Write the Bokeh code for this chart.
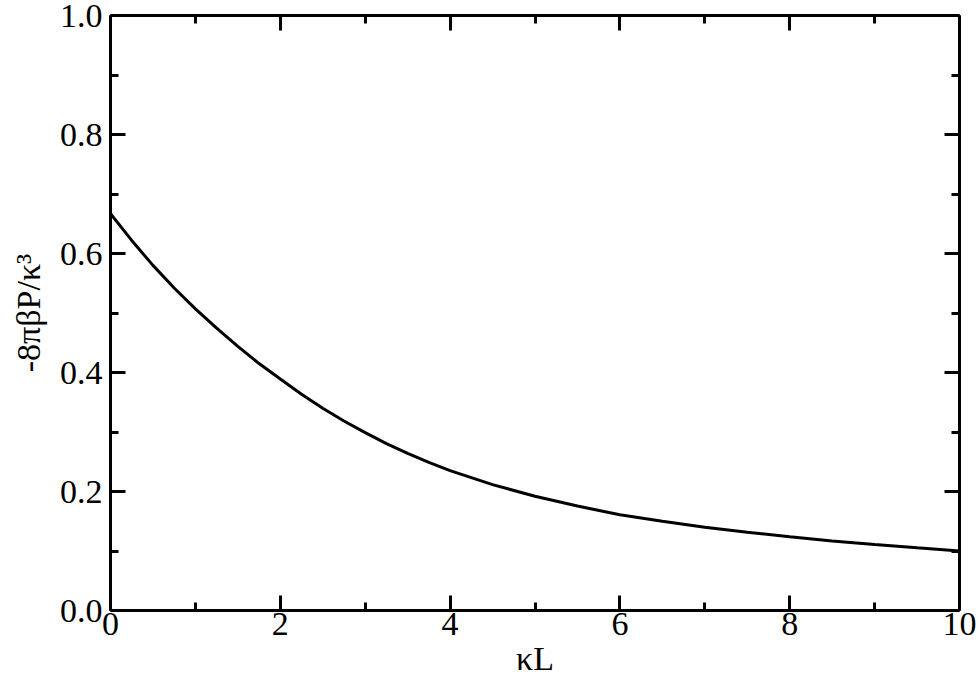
from bokeh.plotting import figure
from bokeh.models import LinearAxis, Range1d, FixedTicker, CustomLabelingPolicy
from bokeh.embed import file_html
from bokeh.resources import INLINE

# data
kL = [0.0, 0.25, 0.5, 0.75, 1.0, 1.25, 1.5, 1.75, 2.0, 2.25, 2.5, 2.75, 3.0,
      3.25, 3.5, 3.75, 4.0, 4.5, 5.0, 5.5, 6.0, 6.5, 7.0, 7.5, 8.0, 8.5, 9.0,
      9.5, 10.0]
pressure = [0.667, 0.622, 0.580, 0.542, 0.507, 0.4745, 0.444, 0.415, 0.389,
            0.3635, 0.340, 0.3185, 0.299, 0.2805, 0.264, 0.2488, 0.235, 0.2115,
            0.192, 0.1755, 0.161, 0.150, 0.140, 0.1315, 0.124, 0.117, 0.111,
            0.1053, 0.100]

x_major = [0, 2, 4, 6, 8, 10]
x_minor = [1, 3, 5, 7, 9]
y_major = [0.0, 0.2, 0.4, 0.6, 0.8, 1.0]
y_minor = [0.1, 0.3, 0.5, 0.7, 0.9]
y_labels = {0.0: "0.0", 0.2: "0.2", 0.4: "0.4", 0.6: "0.6", 0.8: "0.8", 1.0: "1.0"}

FONT = "Liberation Serif"
FS = "34px"

p = figure(output_backend="svg", toolbar_location=None,
           x_range=Range1d(0, 10), y_range=Range1d(0, 1),
           x_axis_location=None, y_axis_location=None,
           min_border_left=110, min_border_right=20, min_border_top=15, min_border_bottom=50,
           frame_width=849, frame_height=595)
p.grid.visible = False
p.outline_line_color = None
p.background_fill_color = "white"
p.border_fill_color = "white"

no_labels = CustomLabelingPolicy(code="return new Set()")


def make_axis(loc, major, minor, show_labels):
    ax = LinearAxis(ticker=FixedTicker(ticks=major, minor_ticks=minor))
    ax.axis_line_width = 3
    ax.axis_line_color = "black"
    ax.major_tick_line_width = 3
    ax.minor_tick_line_width = 3
    ax.major_tick_in = 15
    ax.major_tick_out = 0
    ax.minor_tick_in = 8
    ax.minor_tick_out = 0
    ax.major_label_text_font = FONT
    ax.major_label_text_font_size = FS
    ax.major_label_text_color = "black"
    ax.axis_label_text_font = FONT
    ax.axis_label_text_font_size = FS
    ax.axis_label_text_font_style = "normal"
    ax.axis_label_text_color = "black"
    if not show_labels:
        ax.major_label_policy = no_labels
        ax.major_label_standoff = 0
        ax.major_label_text_font_size = "1px"
        ax.axis_label_standoff = 0
    p.add_layout(ax, loc)
    return ax


xb = make_axis("below", x_major, x_minor, True)
xb.axis_label = "κL"
xb.major_label_standoff = 2
xb.axis_label_standoff = 2

yl = make_axis("left", y_major, y_minor, True)
yl.major_label_overrides = y_labels
yl.axis_label = "-8πβP/κ³"
yl.major_label_standoff = 8
yl.axis_label_standoff = 10

xt = make_axis("above", x_major, x_minor, False)
yr = make_axis("right", y_major, y_minor, False)

p.line(kL, pressure, line_color="black", line_width=3)

open("out.html", "w").write(file_html(p, INLINE))
